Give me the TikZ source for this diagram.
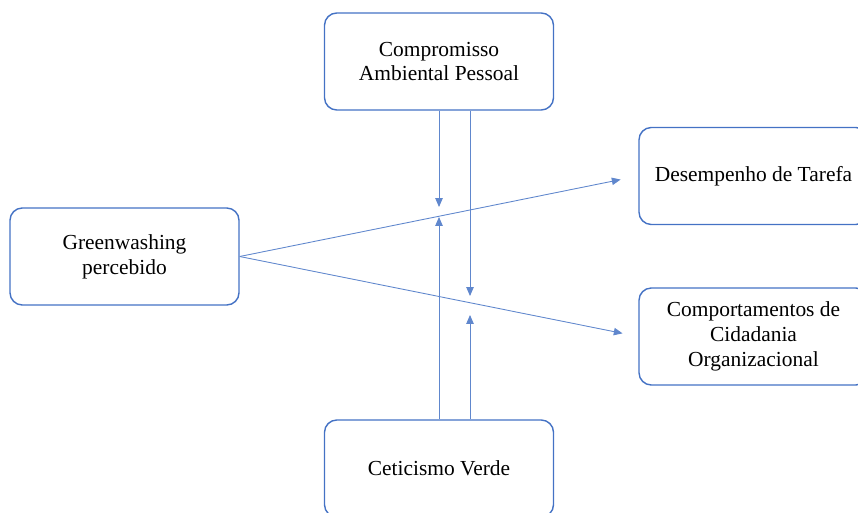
\documentclass[tikz,border=0pt]{standalone}
\usepackage{fontspec}
\setmainfont{Liberation Serif}
\usepackage{tikz}
\usetikzlibrary{arrows.meta}
\definecolor{linkblue}{RGB}{68,114,196}

\begin{document}
\begin{tikzpicture}[x=0.02cm,y=-0.02cm,
	box/.style={draw=linkblue,line width=0.8pt,rounded corners=7pt,minimum width=229*0.02cm,minimum height=97*0.02cm,align=center,inner sep=0pt,font=\fontsize{12.2}{14.2}\selectfont},
	link/.style={draw=linkblue!85,line width=0.5pt,-{Triangle[length=5pt,width=4.2pt]}}]
	\useasboundingbox (0,0) rectangle (858,513);
	\node[box] (cap) at (439,61.5) {Compromisso\\Ambiental Pessoal};
	\node[box] (gp) at (124.5,256.5) {Greenwashing\\percebido};
	\node[box] (dt) at (753.5,176) {Desempenho de Tarefa};
	\node[box] (cco) at (753.5,336.5) {Comportamentos de\\Cidadania\\Organizacional};
	\node[box] (cv) at (439,468.5) {Ceticismo Verde};
	\draw[link,shorten >=18pt*0.57] (gp.east) -- (dt.west);
	\draw[link,shorten >=16pt*0.57] (gp.east) -- (cco.west);
	\coordinate (m1) at (439,207);
	\coordinate (m2) at (470,296);
	\coordinate (m3) at (439,217);
	\coordinate (m4) at (470,315);
	\draw[link] (cap.south -| m1) -- (m1);
	\draw[link] (cap.south -| m2) -- (m2);
	\draw[link] (cv.north -| m3) -- (m3);
	\draw[link] (cv.north -| m4) -- (m4);
\end{tikzpicture}
\end{document}
